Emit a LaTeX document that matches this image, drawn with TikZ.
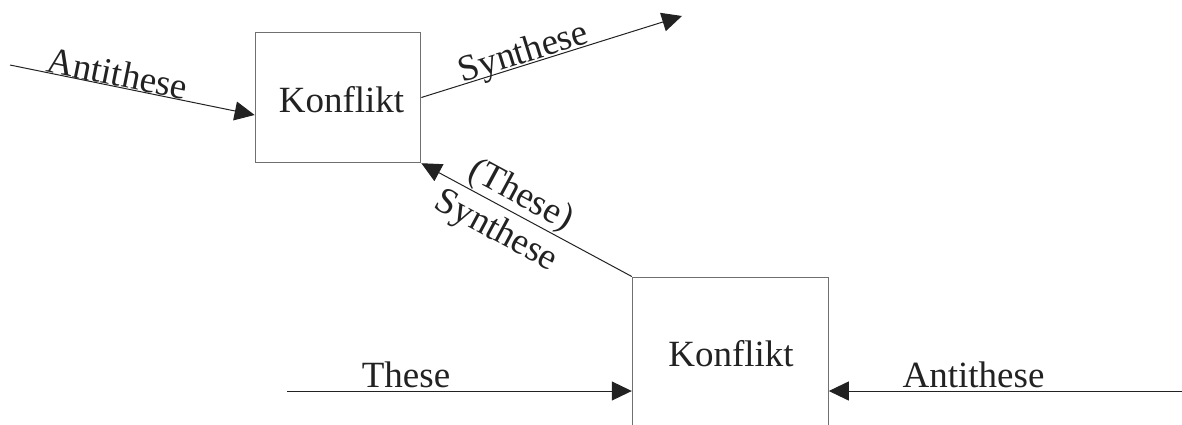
\documentclass[tikz,border=0pt]{standalone}
\usepackage{fontspec}
\setmainfont{Liberation Serif}
\usetikzlibrary{arrows.meta}
\definecolor{ink}{HTML}{222222}
\definecolor{boxline}{HTML}{707070}
\begin{document}
\begin{tikzpicture}[x=1pt,y=1pt,
  every node/.style={font=\fontsize{37}{44}\selectfont, text=ink},
  konf/.style={draw=boxline, line width=1pt, inner sep=0pt},
  conn/.style={draw=ink!90, line width=1pt, -{Triangle[length=20pt,width=19pt]}, color=ink},
  lab/.style={inner sep=0pt}]
\useasboundingbox (0,0) rectangle (1182,-424);
% boxes
\node[konf, minimum width=165.7pt, minimum height=130.4pt] (b1) at (338,-97.5) {};
\node (k1) at (341.5,-100) {Konflikt};
\node[konf, minimum width=196pt, minimum height=154pt] (b2) at (730.3,-354) {};
\node (k2) at (731,-354) {Konflikt};
% free ends
\coordinate (a1) at (10,-65);
\coordinate (s1) at (682,-16);
\coordinate (t1) at (287,-391);
\coordinate (a2) at (1182,-391);
% connectors
\draw[conn] (a1) -- ([yshift=-17.5pt]b1.west);
\draw[conn] (b1.east) -- (s1);
\draw[conn] (b2.north west) -- (b1.south east);
\draw[conn] (t1) -- (b2.west |- t1);
\draw[conn] (a2) -- (b2.east |- a2);
% labels
\node[lab, rotate=-11.5] (la1) at (117.5,-73.5) {Antithese};
\node[lab, rotate=17.3] (ls1) at (524,-54) {Synthese};
\path (b1.south east) -- (b2.north west)
  node[pos=0.43, sloped, anchor=south, inner sep=0pt, inner ysep=1pt] (lt) {(These)}
  node[pos=0.41, sloped, anchor=north, inner xsep=0pt, inner ysep=8pt] (ls2) {Synthese};
\node[lab, anchor=base] (lt2) at (406,-387) {These};
\node[lab, anchor=base] (la2) at (973.5,-387) {Antithese};
\end{tikzpicture}
\end{document}
